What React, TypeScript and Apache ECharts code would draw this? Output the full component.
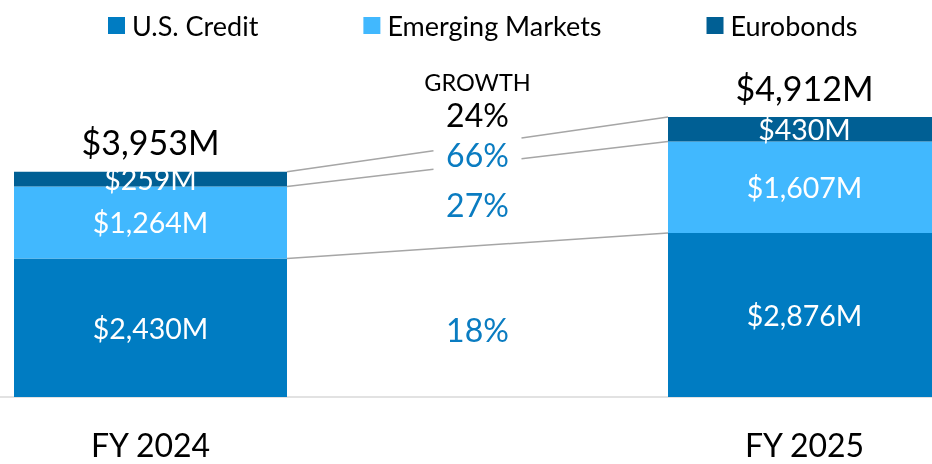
import React, { useEffect, useRef } from "react";
import * as echarts from "echarts";

const categories = ["FY 2024", "", "FY 2025"];
const seriesNames = ["U.S. Credit", "Emerging Markets", "Eurobonds"];
const usCredit = [2430, 2876];
const emergingMarkets = [1264, 1607];
const eurobonds = [259, 430];
const totals = [3953, 4912];
const growthTitle = "GROWTH";

const colors = ["#007CC2", "#41B8FE", "#005F94"];
const FONT = "Lato";

function pct(a: number, b: number) {
  return Math.round((b / a - 1) * 100) + "%";
}

export default function App() {
  const ref = useRef<HTMLDivElement>(null);
  useEffect(() => {
    if (!ref.current) return;
    const chart = echarts.init(ref.current, undefined, { renderer: "svg" });
    const segs = [usCredit, emergingMarkets, eurobonds];
    const fmt = (v: number) => "$" + v.toLocaleString("en-US") + "M";
    const barHalf = 136.5;

    const barSeries = segs.map((arr, i) => ({
      name: seriesNames[i],
      type: "bar",
      stack: "total",
      barWidth: 273,
      data: [arr[0], null, arr[1]],
      itemStyle: { color: colors[i] },
      label: {
        show: true,
        position: "inside",
        color: "#fff",
        fontFamily: FONT,
        fontSize: 28.5,
        formatter: (p: any) => fmt(p.value),
      },
    }));

    const renderItem = (params: any, api: any) => {
      const children: any[] = [];
      const lineStyle = { stroke: "#A6A6A6", lineWidth: 1.5 };
      let cumL = 0;
      let cumR = 0;
      const mids: number[][] = [];
      const tops: number[][] = [];
      segs.forEach((arr) => {
        const baseL = cumL;
        const baseR = cumR;
        cumL += arr[0];
        cumR += arr[1];
        const pL = api.coord([0, cumL]);
        const pR = api.coord([2, cumR]);
        const bL = api.coord([0, baseL]);
        const bR = api.coord([2, baseR]);
        tops.push([pL[0] + barHalf, pL[1], pR[0] - barHalf, pR[1]]);
        mids.push([(pL[1] + bL[1]) / 2, (pR[1] + bR[1]) / 2]);
      });
      const midX = api.coord([1, 0])[0];
      tops.forEach((t, i) => {
        const [x1, y1, x2, y2] = t;
        if (i === 0) {
          children.push({ type: "line", shape: { x1, y1, x2, y2 }, style: lineStyle, silent: true });
        } else {
          const gap = 44;
          const yAt = (x: number) => y1 + ((y2 - y1) * (x - x1)) / (x2 - x1);
          children.push({
            type: "line",
            shape: { x1, y1, x2: midX - gap, y2: yAt(midX - gap) },
            style: lineStyle,
            silent: true,
          });
          children.push({
            type: "line",
            shape: { x1: midX + gap, y1: yAt(midX + gap), x2, y2 },
            style: lineStyle,
            silent: true,
          });
        }
      });
      segs.forEach((arr, i) => {
        const y = (mids[i][0] + mids[i][1]) / 2 + (i === 0 ? 8 : 0);
        children.push({
          type: "text",
          x: midX,
          y,
          style: {
            text: pct(arr[0], arr[1]),
            fill: "#0A7CC1",
            font: `32px ${FONT}`,
            align: "center",
            verticalAlign: "middle",
          },
        });
      });
      const tL = api.coord([0, totals[0]]);
      const tR = api.coord([2, totals[1]]);
      children.push({
        type: "text",
        x: tL[0],
        y: tL[1] - 30,
        style: { text: fmt(totals[0]), fill: "#000", font: `34px ${FONT}`, align: "center", verticalAlign: "middle" },
      });
      children.push({
        type: "text",
        x: tR[0],
        y: tR[1] - 30,
        style: { text: fmt(totals[1]), fill: "#000", font: `34px ${FONT}`, align: "center", verticalAlign: "middle" },
      });
      const gy = (tL[1] + tR[1]) / 2 - 30;
      children.push({
        type: "text",
        x: midX,
        y: gy,
        style: { text: pct(totals[0], totals[1]), fill: "#000", font: `32px ${FONT}`, align: "center", verticalAlign: "middle" },
      });
      children.push({
        type: "text",
        x: midX,
        y: gy - 32,
        style: { text: growthTitle, fill: "#000", font: `23.5px ${FONT}`, align: "center", verticalAlign: "middle" },
      });
      return { type: "group", children };
    };

    chart.setOption({
      animation: false,
      legend: {
        data: [
          { name: seriesNames[0] },
          { name: seriesNames[1], textStyle: { padding: [0, 9, 0, 2] } },
          { name: seriesNames[2] },
        ],
        left: 108,
        top: 12,
        padding: 0,
        itemWidth: 17,
        itemHeight: 17,
        itemGap: 105,
        icon: "rect",
        textStyle: { fontFamily: FONT, fontSize: 27, color: "#000", padding: [0, 0, 0, 2] },
      },
      grid: {
        left: -13,
        right: -36,
        top: 55,
        bottom: 67,
        containLabel: false,
        outerBoundsMode: "none",
      },
      xAxis: {
        type: "category",
        data: categories,
        axisTick: { show: false },
        axisLine: { lineStyle: { color: "#D9D9D9", width: 1.5 } },
        axisLabel: { interval: 0, fontFamily: FONT, fontSize: 32, color: "#000", margin: 31 },
      },
      yAxis: {
        type: "value",
        min: 0,
        max: 6000,
        show: false,
        splitLine: { show: false },
      },
      series: [
        ...barSeries,
        {
          type: "custom",
          name: "annotations",
          coordinateSystem: "cartesian2d",
          data: [[1, 0]],
          renderItem,
          silent: true,
          z: 5,
        },
      ],
    });
    return () => chart.dispose();
  }, []);
  return (
    <div
      ref={ref}
      style={{ position: "fixed", left: 0, top: 0, width: 932, height: 464 }}
    />
  );
}
